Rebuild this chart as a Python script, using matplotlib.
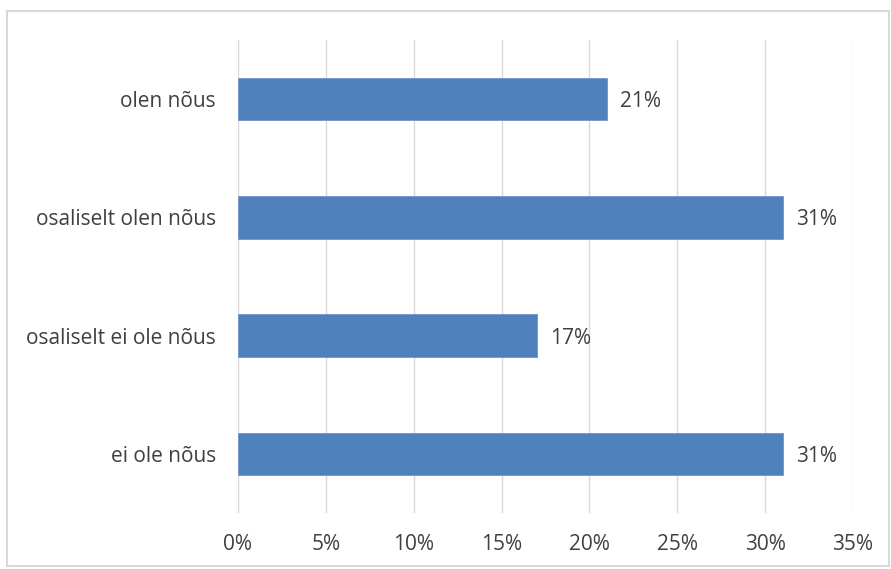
import matplotlib.pyplot as plt
from matplotlib.patches import Rectangle

# data (top to bottom as in chart)
categories = ["olen nõus", "osaliselt olen nõus", "osaliselt ei ole nõus", "ei ole nõus"]
values = [21, 31, 17, 31]
ticks = [0, 5, 10, 15, 20, 25, 30, 35]

plt.rcParams["font.family"] = ["Open Sans", "DejaVu Sans"]

fig = plt.figure(figsize=(8.91, 5.69), dpi=100)
ax = fig.add_axes([238 / 891, 1 - 513 / 569, 615 / 891, 473 / 569])

# outer chart border
fig.patches.append(Rectangle((7 / 891, 3 / 569), 882 / 891, 555 / 569,
                             transform=fig.transFigure, fill=False,
                             edgecolor="#d9d9d9", linewidth=1.5))

y = list(range(len(categories)))[::-1]
ax.barh(y, values, height=0.36, color="#4f81bd", edgecolor="#6f96c8", linewidth=0.6, zorder=3)

for yi, v in zip(y, values):
    ax.text(v + 0.75, yi, f"{v}%", va="center_baseline", ha="left", fontsize=15, color="#404040")

ax.set_xlim(0, 35)
ax.set_ylim(-0.5, 3.5)
ax.set_xticks(ticks)
ax.set_xticklabels([f"{t}%" for t in ticks])
ax.set_yticks(y)
ax.set_yticklabels(categories, va="center_baseline")
ax.grid(axis="x", color="#d9d9d9", linewidth=1, zorder=0)
for s in ax.spines.values():
    s.set_visible(False)
ax.tick_params(length=0, labelsize=15, labelcolor="#404040")
ax.tick_params(axis="x", pad=15)
ax.tick_params(axis="y", pad=16)

fig.savefig("out.png", dpi=100)
